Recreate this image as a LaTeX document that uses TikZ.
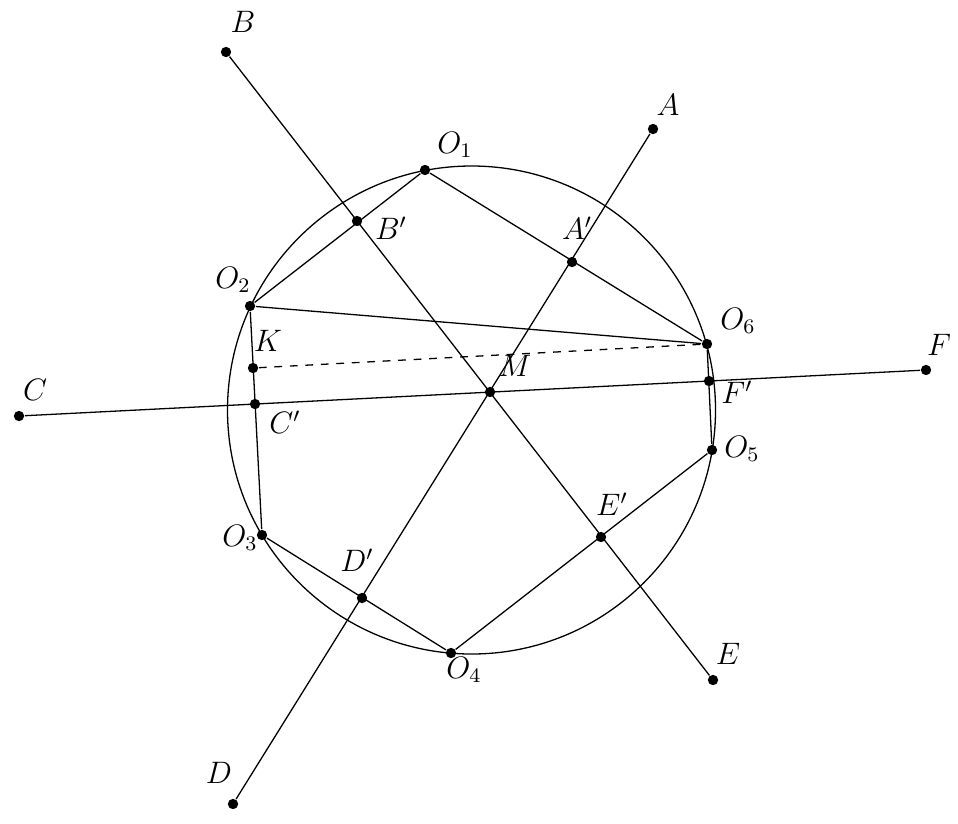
\documentclass[tikz,border=0pt]{standalone}
\usepackage{amssymb}
\usepackage{tikz}
\usetikzlibrary{calc}
\tikzset{
    dot/.style={circle, fill, inner sep=0pt, minimum size=4pt},
    lbl/.style={inner sep=0pt, font=\large}}

\begin{document}
\begin{tikzpicture}[x=0.0136cm,y=-0.0136cm,line width=0.5pt]
\useasboundingbox (0,0) rectangle (958,823);
\coordinate (Z) at (471.5,410);

\node[dot] (A) at (653,129) {};
\node[dot] (B) at (226,52) {};
\node[dot] (C) at (19,416) {};
\node[dot] (D) at (233,804) {};
\node[dot] (E) at (713,680) {};
\node[dot] (F) at (926,370) {};
\node[dot] (M) at (490,392) {};
\node[dot] (K) at (253,368) {};

\node[dot] (O1) at (425,170) {};
\node[dot] (O2) at (250,306) {};
\node[dot] (O3) at (262,535) {};
\node[dot] (O4) at (451,653) {};
\node[dot] (O5) at (712,450) {};
\node[dot] (O6) at (707,344) {};

\node[dot] (Ap) at (572,262) {};
\node[dot] (Bp) at (357,221) {};
\node[dot] (Cp) at (255,404) {};
\node[dot] (Dp) at (362,598) {};
\node[dot] (Ep) at (601,537) {};
\node[dot] (Fp) at (709,381) {};

% circle through the O's
\draw (Z) circle[radius=244];

% lines through M
\draw (A) -- (D);
\draw (B) -- (E);
\draw (C) -- (F);

% hexagon
\draw (O1) -- (O2) -- (O3) -- (O4) -- (O5) -- (O6) -- (O1);
\draw (O2) -- (O6);
\draw [dashed] (K) -- (O6);

% labels
\node[lbl] (lA) at (668,105) {$A$};
\node[lbl] (lB) at (243,22) {$B$};
\node[lbl] (lC) at (35,390) {$C$};
\node[lbl] (lD) at (219,773) {$D$};
\node[lbl] (lE) at (728,654) {$E$};
\node[lbl] (lF) at (939,345) {$F$};
\node[lbl] (lM) at (515,366) {$M$};
\node[lbl] (lK) at (268,341) {$K$};
\node[lbl] (lO1) at (455,145) {$O_1$};
\node[lbl] (lO2) at (233,280) {$O_2$};
\node[lbl] (lO3) at (240,538) {$O_3$};
\node[lbl] (lO4) at (464,670) {$O_4$};
\node[lbl] (lO5) at (742,449) {$O_5$};
\node[lbl] (lO6) at (738,321) {$O_6$};
\node[lbl] (lAp) at (577,228) {$A'$};
\node[lbl] (lBp) at (391,228) {$B'$};
\node[lbl] (lCp) at (285,422) {$C'$};
\node[lbl] (lDp) at (357,560) {$D'$};
\node[lbl] (lEp) at (612,504) {$E'$};
\node[lbl] (lFp) at (737,392) {$F'$};
\end{tikzpicture}
\end{document}
